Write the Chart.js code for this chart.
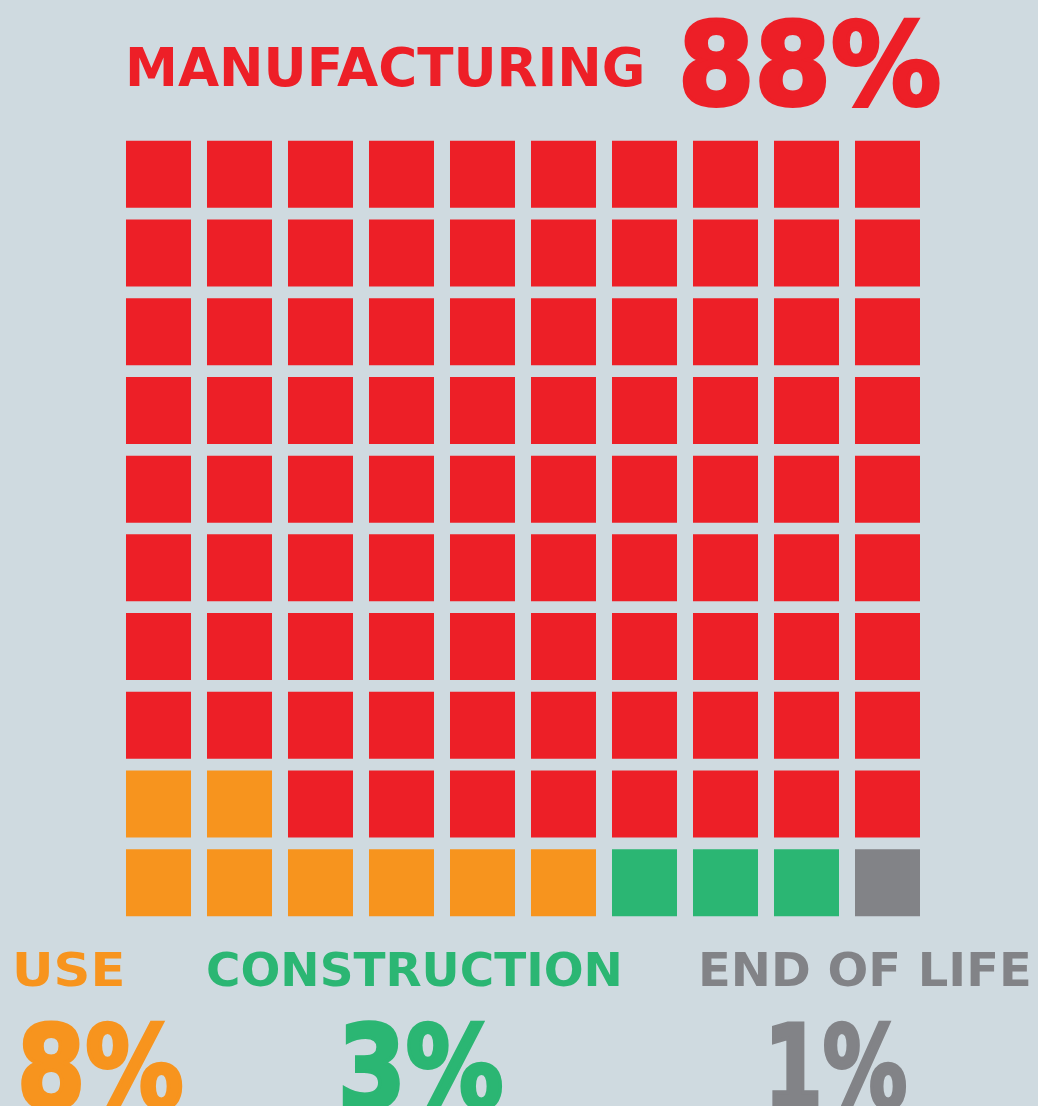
<!DOCTYPE html>
<html>
<head>
<meta charset="utf-8">
<title>Lifecycle emissions waffle</title>
<script src="https://cdn.jsdelivr.net/npm/chart.js@4.4.1/dist/chart.umd.min.js"></script>
<style>
    html, body {
        margin: 0;
        padding: 0;
        background: #cfdae0;
        overflow: hidden;
    }
    #wrap {
        position: relative;
        width: 1038px;
        height: 1106px;
    }
    #waffle {
        position: absolute;
        left: 0;
        top: 0;
    }
    .lbl {
        position: absolute;
        margin: 0;
        white-space: nowrap;
        font-family: "DejaVu Sans", sans-serif;
        font-weight: bold;
        line-height: 1;
        transform-origin: 0 0;
    }
</style>
</head>
<body>
<div id="wrap">
    <canvas id="waffle" width="1038" height="1106"></canvas>
    <div class="lbl" id="t-manufacturing">MANUFACTURING</div>
    <div class="lbl" id="p-manufacturing">88%</div>
    <div class="lbl" id="t-use">USE</div>
    <div class="lbl" id="p-use">8%</div>
    <div class="lbl" id="t-construction">CONSTRUCTION</div>
    <div class="lbl" id="p-construction">3%</div>
    <div class="lbl" id="t-eol">END OF LIFE</div>
    <div class="lbl" id="p-eol">1%</div>
</div>
<script>
(function() {
    'use strict';

    // Shares per lifecycle stage (one square = 1%)
    const stages = ['MANUFACTURING', 'USE', 'CONSTRUCTION', 'END OF LIFE'];
    const shares = [88, 8, 3, 1];
    const stageColors = ['#ed1f27', '#f7941e', '#2bb673', '#828387'];

    // Squares are laid from the bottom-right corner, snaking row by row
    const fillOrder = ['END OF LIFE', 'CONSTRUCTION', 'USE', 'MANUFACTURING'];

    const columns = ['1', '2', '3', '4', '5', '6', '7', '8', '9', '10'];
    const rowCount = 10;

    const FONT = '"DejaVu Sans", sans-serif';
    const GAP = 0.0745; // vertical gap between rows, in row units

    /**
     * Build a rowCount x columns grid of colours from the shares
     */
    function buildGrid() {
        const sequence = [];
        fillOrder.forEach(function(name) {
            const i = stages.indexOf(name);
            for (let n = 0; n < shares[i]; n++) sequence.push(stageColors[i]);
        });

        const grid = [];
        let k = 0;
        for (let r = 0; r < rowCount; r++) {
            const row = new Array(columns.length);
            for (let c = 0; c < columns.length; c++) {
                // even rows (from the bottom) run right-to-left, odd rows left-to-right
                const col = (r % 2 === 0) ? columns.length - 1 - c : c;
                row[col] = sequence[k++];
            }
            grid.push(row);
        }
        return grid;
    }

    const grid = buildGrid();

    const datasets = grid.map(function(rowColors, r) {
        return {
            label: 'row ' + (r + 1),
            data: columns.map(function() { return [r + GAP, r + 1 - GAP]; }),
            backgroundColor: rowColors,
            borderWidth: 0,
            borderSkipped: false,
            grouped: false,
            categoryPercentage: 1,
            barPercentage: 0.8025
        };
    });

    new Chart(document.getElementById('waffle'), {
        type: 'bar',
        data: { labels: columns, datasets: datasets },
        options: {
            responsive: false,
            animation: false,
            events: [],
            layout: { padding: { top: 135, bottom: 184, left: 118, right: 110 } },
            plugins: {
                legend: { display: false },
                tooltip: { enabled: false }
            },
            scales: {
                x: { display: false },
                y: { display: false, min: 0, max: rowCount }
            }
        }
    });

    /**
     * Fit a text element into an ink box: left/right edges, top, baseline.
     * stroke thickens the glyphs (heavy numerals) and is kept inside the box.
     */
    const probe = document.createElement('canvas').getContext('2d');
    function fitLabel(id, color, box, stroke) {
        stroke = stroke || 0;
        const half = stroke / 2;
        const el = document.getElementById(id);
        const text = el.textContent;
        probe.font = 'bold 100px ' + FONT;
        const m = probe.measureText(text);
        const size = 100 * (box.bottom - box.top - stroke) / m.actualBoundingBoxAscent;
        const inkW = (m.actualBoundingBoxLeft + m.actualBoundingBoxRight) * size / 100 + stroke;
        const scale = (box.right - box.left) / inkW;

        el.style.color = color;
        el.style.fontSize = size + 'px';
        if (stroke) {
            el.style.webkitTextStroke = stroke + 'px ' + color;
        }
        el.style.top = '0px';
        el.style.left = (box.left + (m.actualBoundingBoxLeft * size / 100 + half) * scale) + 'px';

        // find where the baseline sits inside the element
        const mark = document.createElement('span');
        mark.style.display = 'inline-block';
        mark.style.width = '0';
        mark.style.height = '0';
        mark.style.verticalAlign = 'baseline';
        el.appendChild(mark);
        const baseline = mark.getBoundingClientRect().bottom - el.getBoundingClientRect().top;
        el.removeChild(mark);

        el.style.top = (box.bottom - half - baseline) + 'px';
        el.style.transform = 'scaleX(' + scale + ')';
    }

    fitLabel('t-manufacturing', stageColors[0], { left: 130, right: 642, top: 46, bottom: 86 });
    fitLabel('p-manufacturing', stageColors[0], { left: 683, right: 941, top: 17, bottom: 106 }, 4);
    fitLabel('t-use', stageColors[1], { left: 17, right: 122, top: 951, bottom: 986 });
    fitLabel('p-use', stageColors[1], { left: 21, right: 183, top: 1020, bottom: 1109 }, 4);
    fitLabel('t-construction', stageColors[2], { left: 208, right: 619, top: 951, bottom: 986 });
    fitLabel('p-construction', stageColors[2], { left: 342, right: 503, top: 1020, bottom: 1109 }, 4);
    fitLabel('t-eol', stageColors[3], { left: 702, right: 1028, top: 951, bottom: 986 });
    fitLabel('p-eol', stageColors[3], { left: 772, right: 907, top: 1020, bottom: 1109 }, 4);
})();
</script>
</body>
</html>
